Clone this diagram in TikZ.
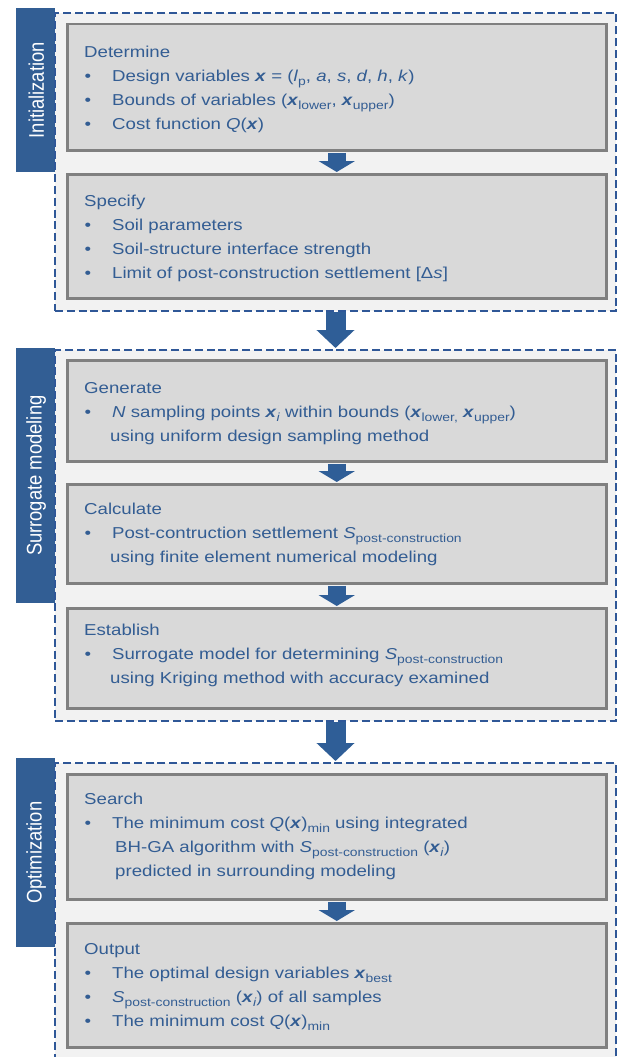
\documentclass[tikz,border=0pt]{standalone}
\usepackage{fontspec}
\setmainfont{Liberation Sans}[FakeStretch=1.18]
\newfontfamily\tabfont{Liberation Sans}
\usetikzlibrary{arrows.meta,calc}
\definecolor{tabblue}{HTML}{325E94}
\definecolor{arrowblue}{HTML}{2F5E97}
\definecolor{dashblue}{HTML}{2F5797}
\definecolor{txtblue}{HTML}{335D93}
\definecolor{boxfill}{HTML}{D9D9D9}
\definecolor{boxline}{HTML}{808080}
\definecolor{framefill}{HTML}{F2F2F2}
\newcommand\bul{\makebox[28pt][l]{\hspace{0.5pt}\textbullet}}
\newcommand\bx[1]{\textbf{\textit{#1}}}
\newcommand\sbs[1]{\raisebox{-4.3pt}{\fontsize{11.8}{12}\selectfont #1}}
\newcommand\cont[1]{\hspace*{#1}}
\tikzset{
  frame/.style={rectangle, anchor=north west, inner sep=0pt, fill=framefill, draw=dashblue, line width=2pt, dash pattern=on 8pt off 3.8pt},
  tabbox/.style={rectangle, anchor=north west, inner sep=0pt, fill=tabblue, minimum width=39pt},
  tabtext/.style={rotate=90, text=white, inner sep=0pt, font=\tabfont\fontsize{18.4}{20}\selectfont},
  stepbox/.style={rectangle, anchor=north west, inner sep=0pt, fill=boxfill, draw=boxline, line width=2.5pt, minimum width=539pt},
  txt/.style={anchor=base west, inner sep=0pt, text=txtblue, font=\fontsize{15.8}{24}\selectfont},
  smallarrow/.style={draw=arrowblue, line width=18pt, -{Triangle[width=36pt,length=11pt]}, shorten <=1.25pt, shorten >=1pt},
  bigarrow/.style={draw=arrowblue, line width=20pt, -{Triangle[width=37pt,length=18pt]}, shorten >=1pt},
}
\begin{document}
\begin{tikzpicture}[x=1pt,y=-1pt]
\useasboundingbox (0,0) rectangle (617,1057);
\clip (0,0) rectangle (617,1057);
% tabs
\node[tabbox, minimum height=164pt] (tab1) at (16,8) {};
\node[tabbox, minimum height=255pt] (tab2) at (16,348) {};
\node[tabbox, minimum height=189pt] (tab3) at (16,758) {};
% frames
\node[frame, minimum width=561pt, minimum height=298pt] (f1) at (54,12) {};
\node[frame, minimum width=561pt, minimum height=371pt] (f2) at (54,349) {};
\node[frame, minimum width=561pt, minimum height=310pt] (f3) at (54,762) {};
% tab labels
\node[tabtext] (l1) at ($(tab1.center)+(0.5,0)$) {\scalebox{1}[1.15]{Initialization}};
\node[tabtext] (l2) at ($(tab2.center)+(0.5,0)$) {\scalebox{1}[1.15]{Surrogate modeling}};
\node[tabtext] (l3) at ($(tab3.center)+(0.5,0)$) {\scalebox{1}[1.15]{Optimization}};
% step boxes
\node[stepbox, minimum height=126pt] (b1) at (66,23) {};
\node[stepbox, minimum height=124pt] (b2) at (66,173) {};
\node[stepbox, minimum height=101pt] (b3) at (66,359) {};
\node[stepbox, minimum height=99pt] (b4) at (66,483) {};
\node[stepbox, minimum height=100pt] (b5) at (66,607) {};
\node[stepbox, minimum height=125pt] (b6) at (66,773) {};
\node[stepbox, minimum height=124pt] (b7) at (66,922) {};
% texts
\node[txt] (t1) at (84,57.5) {\parbox[t]{515pt}{Determine\\
\bul Design variables \bx{x} = (\textit{l}\sbs{p}, \textit{a}, \textit{s}, \textit{d}, \textit{h}, \textit{k})\\
\bul Bounds of variables (\bx{x}\sbs{lower}, \bx{x}\sbs{upper})\\
\bul Cost function \textit{Q}(\bx{x})}};
\node[txt] (t2) at (84,206.5) {\parbox[t]{515pt}{Specify\\
\bul Soil parameters\\
\bul Soil-structure interface strength\\
\bul Limit of post-construction settlement [Δ\textit{s}]}};
\node[txt] (t3) at (84,393.5) {\parbox[t]{515pt}{Generate\\
\bul \textit{N} sampling points \bx{x}\sbs{\textit{i}} within bounds (\bx{x}\sbs{lower,} \bx{x}\sbs{upper})\\
\cont{26pt}using uniform design sampling method}};
\node[txt] (t4) at (84,514) {\parbox[t]{515pt}{Calculate\\
\bul Post-contruction settlement \textit{S}\sbs{post-construction}\\
\cont{26pt}using finite element numerical modeling}};
\node[txt] (t5) at (84,635) {\parbox[t]{515pt}{Establish\\
\bul Surrogate model for determining \textit{S}\sbs{post-construction}\\
\cont{26pt}using Kriging method with accuracy examined}};
\node[txt] (t6) at (84,804.5) {\parbox[t]{515pt}{Search\\
\bul The minimum cost \textit{Q}(\bx{x})\sbs{min} using integrated\\
\cont{31pt}BH-GA algorithm with \textit{S}\sbs{post-construction} (\bx{x}\sbs{\textit{i}})\\
\cont{31pt}predicted in surrounding modeling}};
\node[txt] (t7) at (84,954.5) {\parbox[t]{515pt}{Output\\
\bul The optimal design variables \bx{x}\sbs{best}\\
\bul \textit{S}\sbs{post-construction} (\bx{x}\sbs{\textit{i}}) of all samples\\
\bul The minimum cost \textit{Q}(\bx{x})\sbs{min}}};
% arrows
\draw[smallarrow] (b1.south) -- (b2.north);
\draw[smallarrow] (b3.south) -- (b4.north);
\draw[smallarrow] (b4.south) -- (b5.north);
\draw[smallarrow] (b6.south) -- (b7.north);
\draw[bigarrow] (f1.south) -- (f2.north);
\draw[bigarrow] (f2.south) -- (f3.north);
\end{tikzpicture}
\end{document}
